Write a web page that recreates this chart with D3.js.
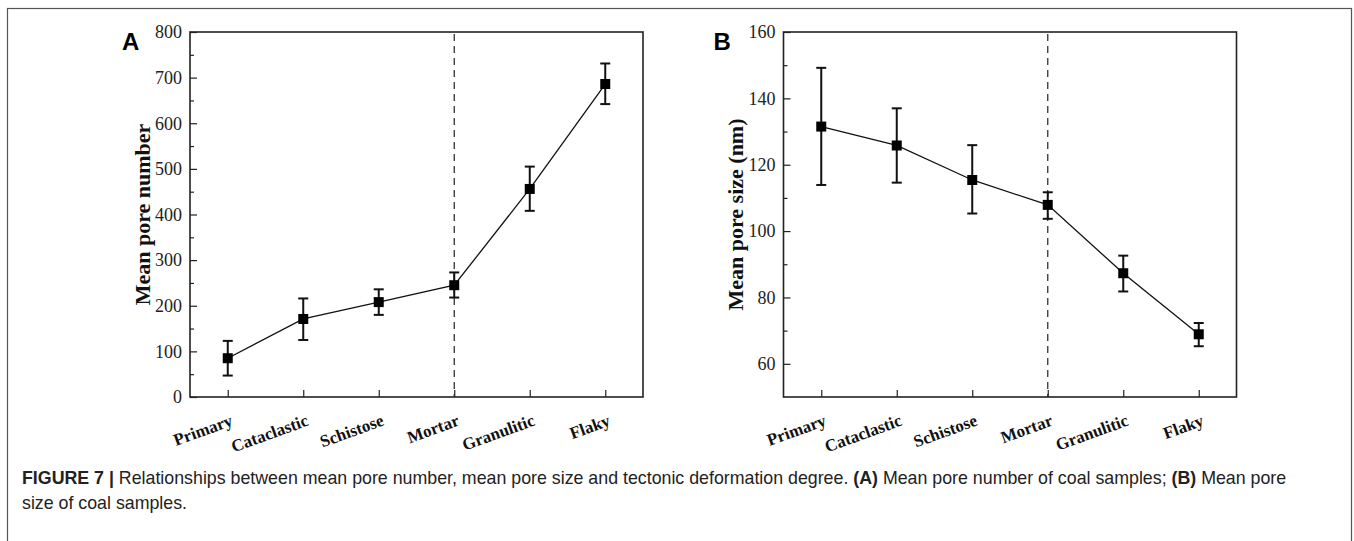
<!DOCTYPE html>
<html>
<head>
<meta charset="utf-8">
<script src="https://cdn.jsdelivr.net/npm/d3@7"></script>
<style>
  body { margin: 0; background: #fff; }
  svg { display: block; }
</style>
</head>
<body>
<svg id="fig" width="1354" height="541"></svg>
<script>
// coal structure types (x axis)
const categories = ["Primary", "Cataclastic", "Schistose", "Mortar", "Granulitic", "Flaky"]

// panel A: mean pore number
const poreNumber = [85, 171, 208, 245, 456, 686]
const poreNumberLow = [47, 125, 180, 218, 408, 642]
const poreNumberHigh = [123, 216, 236, 273, 505, 731]
const poreNumberTicks = [0, 100, 200, 300, 400, 500, 600, 700, 800]

// panel B: mean pore size (nm)
const poreSize = [131.5, 125.8, 115.4, 107.9, 87.3, 68.9]
const poreSizeLow = [113.9, 114.6, 105.3, 103.7, 81.8, 65.3]
const poreSizeHigh = [149.2, 137.0, 125.9, 111.7, 92.6, 72.3]
const poreSizeTicks = [60, 80, 100, 120, 140, 160]

const svg = d3.select("#fig")

// outer frame of the figure
svg.append("rect")
    .attr("x", 7.5).attr("y", 8.5)
    .attr("width", 1344).attr("height", 560)
    .attr("fill", "none").attr("stroke", "#555").attr("stroke-width", 1.2)

const height = 365

function drawPanel(opts) {
    const g = svg.append("g").attr("transform", "translate(" + opts.left + ",32)")
    const width = 453

    let x = d3.scaleLinear().domain([0.5, 6.5]).range([0, width])
    let y = d3.scaleLinear().domain(opts.domain).range([height, 0])

    // minor ticks on y
    g.append("g")
        .call(d3.axisRight(y).tickValues(opts.minor).tickSize(4).tickFormat(""))
        .call(a => a.select(".domain").remove())
        .selectAll("line").attr("stroke", "#222").attr("stroke-width", 1.2)

    // major y ticks, drawn inward
    let yAxis = g.append("g")
        .call(d3.axisRight(y).tickValues(opts.ticks).tickSize(7).tickPadding(-7 - 8).tickFormat(d3.format("d")))
    yAxis.select(".domain").remove()
    yAxis.selectAll("line").attr("stroke", "#222").attr("stroke-width", 1.2)
    yAxis.selectAll("text")
        .attr("text-anchor", "end")
        .attr("font-family", "'Liberation Serif', 'Times New Roman', serif")
        .attr("font-size", 18)
        .attr("fill", "#222")

    // x ticks, inward, labels rotated
    let xAxis = g.append("g")
        .attr("transform", "translate(0," + height + ")")
        .call(d3.axisTop(x).tickValues(d3.range(1, 7)).tickSize(7).tickFormat(""))
    xAxis.select(".domain").remove()
    xAxis.selectAll("line").attr("stroke", "#222").attr("stroke-width", 1.2)

    g.append("g").selectAll("text")
        .data(categories)
        .enter()
        .append("text")
        .attr("transform", (d, i) => "translate(" + (x(i + 1) + 6) + "," + (height + 28) + ") rotate(-20)")
        .attr("text-anchor", "end")
        .attr("font-family", "'Liberation Serif', 'Times New Roman', serif")
        .attr("font-weight", "bold")
        .attr("font-size", 17)
        .attr("fill", "#111")
        .text(d => d)

    // dashed divider at Mortar
    g.append("line")
        .attr("x1", x(4)).attr("x2", x(4))
        .attr("y1", 2).attr("y2", height)
        .attr("stroke", "#333").attr("stroke-width", 1.3)
        .attr("stroke-dasharray", "7,5")

    // plot frame
    g.append("rect")
        .attr("width", width).attr("height", height)
        .attr("fill", "none").attr("stroke", "#222").attr("stroke-width", 1.6)

    // connecting line
    let line = d3.line()
        .x((d, i) => x(i + 1))
        .y(d => y(d))
    g.append("path")
        .datum(opts.values)
        .attr("d", line)
        .attr("fill", "none").attr("stroke", "#111").attr("stroke-width", 1.3)

    // error bars
    let bars = g.append("g").attr("stroke", "#111").attr("stroke-width", 2)
    opts.values.forEach((v, i) => {
        let cx = x(i + 1)
        bars.append("line").attr("x1", cx).attr("x2", cx).attr("y1", y(opts.low[i])).attr("y2", y(opts.high[i]))
        bars.append("line").attr("x1", cx - 5).attr("x2", cx + 5).attr("y1", y(opts.low[i])).attr("y2", y(opts.low[i]))
        bars.append("line").attr("x1", cx - 5).attr("x2", cx + 5).attr("y1", y(opts.high[i])).attr("y2", y(opts.high[i]))
    })

    // square markers
    g.append("g").selectAll("rect")
        .data(opts.values)
        .enter()
        .append("rect")
        .attr("x", (d, i) => x(i + 1) - 5)
        .attr("y", d => y(d) - 5)
        .attr("width", 10).attr("height", 10)
        .attr("fill", "#000")

    // y title
    g.append("text")
        .attr("transform", "translate(" + opts.titleX + "," + (height / 2) + ") rotate(-90)")
        .attr("text-anchor", "middle")
        .attr("font-family", "'Liberation Serif', 'Times New Roman', serif")
        .attr("font-weight", "bold")
        .attr("font-size", 22)
        .attr("fill", "#111")
        .text(opts.title)

    // panel letter
    g.append("text")
        .attr("x", opts.letterX).attr("y", 18)
        .attr("font-family", "'Liberation Sans', Arial, sans-serif")
        .attr("font-weight", "bold")
        .attr("font-size", 24)
        .attr("fill", "#000")
        .text(opts.letter)
}

drawPanel({
    left: 190, domain: [0, 800], ticks: poreNumberTicks,
    minor: d3.range(50, 800, 100),
    values: poreNumber, low: poreNumberLow, high: poreNumberHigh,
    title: "Mean pore number", titleX: -40, letter: "A", letterX: -68
})

drawPanel({
    left: 783.5, domain: [50, 160], ticks: poreSizeTicks,
    minor: d3.range(70, 160, 20),
    values: poreSize, low: poreSizeLow, high: poreSizeHigh,
    title: "Mean pore size (nm)", titleX: -41, letter: "B", letterX: -70
})

// caption
const caption = svg.append("text")
    .attr("font-family", "'Liberation Sans', Arial, sans-serif")
    .attr("font-size", 17.8)
    .attr("fill", "#222")
caption.append("tspan").attr("x", 22).attr("y", 484)
    .attr("font-weight", "bold").text("FIGURE 7 | ")
caption.append("tspan")
    .text("Relationships between mean pore number, mean pore size and tectonic deformation degree. ")
caption.append("tspan").attr("font-weight", "bold").text("(A)")
caption.append("tspan").text(" Mean pore number of coal samples; ")
caption.append("tspan").attr("font-weight", "bold").text("(B)")
caption.append("tspan").text(" Mean pore")
svg.append("text")
    .attr("x", 22).attr("y", 509)
    .attr("font-family", "'Liberation Sans', Arial, sans-serif")
    .attr("font-size", 17.8)
    .attr("fill", "#222")
    .text("size of coal samples.")
</script>
</body>
</html>
